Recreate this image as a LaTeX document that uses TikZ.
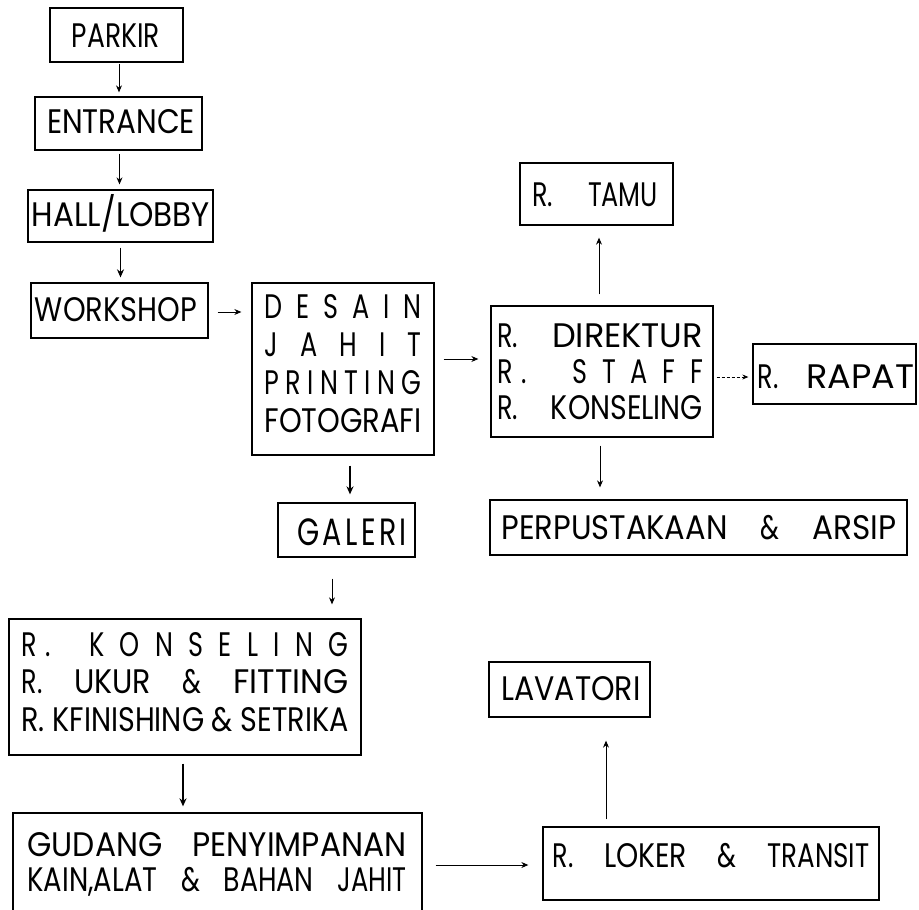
\documentclass[tikz,border=0pt]{standalone}
\usepackage{fontspec}
\setmainfont{Poppins}[FakeStretch=0.75]
\usepackage{graphicx}
\usetikzlibrary{arrows.meta,calc}
\newcommand{\fitw}[2]{\resizebox{#1}{\height}{#2}}
\begin{document}
\begin{tikzpicture}[x=1pt,y=-1pt,
  box/.style={draw, line width=1.3pt, rectangle, inner sep=0pt},
  txt/.style={inner sep=0pt, anchor=base, font=\fontsize{34}{40}\selectfont},
  bigtxt/.style={inner sep=0pt, anchor=base, font=\fontsize{38}{44}\selectfont},
  arr/.style={line width=1pt, -{Stealth[length=7pt,width=6pt]}},
  thickarr/.style={line width=1.8pt, -{Stealth[length=8pt,width=7pt]}},
  thinarr/.style={line width=0.8pt, densely dashed, -{Stealth[length=6pt,width=5pt]}}]
\useasboundingbox (0,0) rectangle (919,910);
% boxes
\node[box, minimum width=133pt, minimum height=54pt] (parkir) at (116.5,35) {};
\node[box, minimum width=167pt, minimum height=53pt] (entrance) at (118.5,123.5) {};
\node[box, minimum width=185pt, minimum height=52pt] (hall) at (120.5,216) {};
\node[box, minimum width=177pt, minimum height=55pt] (workshop) at (119.5,310.5) {};
\node[box, minimum width=182pt, minimum height=172pt] (desain) at (343,369) {};
\node[box, minimum width=222pt, minimum height=131pt] (direktur) at (602,371.5) {};
\node[box, minimum width=153pt, minimum height=62pt] (tamu) at (596.5,194) {};
\node[box, minimum width=163pt, minimum height=60pt] (rapat) at (834.5,374) {};
\node[box, minimum width=417pt, minimum height=55pt] (perpus) at (698.5,527.5) {};
\node[box, minimum width=137pt, minimum height=54pt] (galeri) at (346.5,530) {};
\node[box, minimum width=352pt, minimum height=136pt] (konsel) at (185,687) {};
\node[box, minimum width=409pt, minimum height=102pt] (gudang) at (217.5,864) {};
\node[box, minimum width=161pt, minimum height=55pt] (lavatori) at (569.5,689.5) {};
\node[box, minimum width=336pt, minimum height=73pt] (loker) at (711,863.5) {};
% texts
\node[txt] (tparkir) at (116,47) {\fitw{88pt}{PARKIR}};
\node[txt] (tentrance) at (121,133) {\fitw{148pt}{ENTRANCE}};
\node[txt] (thall) at (121,226) {\fitw{178pt}{HALL/LOBBY}};
\node[txt] (tworkshop) at (116,321) {\fitw{162pt}{WORKSHOP}};
\node[txt] (tdesain) at (343,318) {\makebox[157pt]{D\hfill E\hfill S\hfill A\hfill I\hfill N}};
\node[txt] (tjahit) at (343,356) {\makebox[157pt]{J\hfill A\hfill H\hfill I\hfill T}};
\node[txt] (tprinting) at (343,394) {\makebox[157pt]{P\hfill R\hfill I\hfill N\hfill T\hfill I\hfill N\hfill G}};
\node[txt] (tfoto) at (343,432) {\fitw{157pt}{FOTOGRAFI}};
\node[txt] (tdir1) at (600,347) {\makebox[206pt]{R.\hfill\fitw{151pt}{DIREKTUR}}};
\node[txt] (tdir2) at (600,383) {\makebox[206pt]{R\hspace{9pt}.\hspace{46pt}S\hfill T\hfill A\hfill F\hfill F}};
\node[txt] (tdir3) at (600,419) {\makebox[206pt]{R.\hfill\fitw{152pt}{KONSELING}}};
\node[txt] (ttamu) at (595,206) {\makebox[126pt]{R.\hfill\fitw{70pt}{TAMU}}};
\node[txt] (trapat) at (836,388) {\makebox[157pt]{R.\hfill\fitw{108pt}{RAPAT}}};
\node[txt] (tperpus) at (699,539) {\makebox[395pt]{\fitw{226pt}{PERPUSTAKAAN}\hfill\&\hfill\fitw{84pt}{ARSIP}}};
\node[bigtxt] (tgaleri) at (352,545) {\makebox[110pt]{G\hfill A\hfill L\hfill E\hfill R\hfill I}};
\node[txt] (tk1) at (185,656) {\makebox[327pt]{R\hspace{9pt}.\hspace{38pt}K\hfill O\hfill N\hfill S\hfill E\hfill L\hfill I\hfill N\hfill G}};
\node[txt] (tk2) at (185,693) {\makebox[327pt]{R.\hfill\fitw{77pt}{UKUR}\hfill\&\hfill\fitw{115pt}{FITTING}}};
\node[txt] (tk3) at (185,731) {\fitw{327pt}{R. KFINISHING \& SETRIKA}};
\node[txt] (tg1) at (217,856) {\makebox[379pt]{\fitw{135pt}{GUDANG}\hfill\fitw{214pt}{PENYIMPANAN}}};
\node[txt] (tg2) at (217,891) {\makebox[379pt]{\fitw{130pt}{KAIN,ALAT}\hfill\&\hfill\fitw{90pt}{BAHAN}\hfill\fitw{69pt}{JAHIT}}};
\node[txt] (tlava) at (571,700) {\fitw{139pt}{LAVATORI}};
\node[txt] (tloker) at (711,867) {\makebox[317pt]{R.\hfill\fitw{83pt}{LOKER}\hfill\&\hfill\fitw{102pt}{TRANSIT}}};
% arrows
\draw[arr, shorten <=1pt, shorten >=4pt] ([xshift=2.5pt]parkir.south) -- ([xshift=2.5pt]parkir.south |- entrance.north);
\draw[arr, shorten <=3pt, shorten >=5pt] ([xshift=1pt]entrance.south) -- ([xshift=1pt]entrance.south |- hall.north);
\draw[thickarr, shorten <=5pt, shorten >=5pt] (hall.south) -- (hall.south |- workshop.north);
\draw[arr, shorten <=9pt, shorten >=10pt] ([yshift=-1.5pt]workshop.east) -- ([yshift=-1.5pt]workshop.east -| desain.west);
\draw[arr, shorten <=9pt, shorten >=12pt] ([yshift=10pt]desain.east) -- ([yshift=10pt]desain.east -| direktur.west);
\draw[arr, shorten <=11pt, shorten >=12pt] ([xshift=-3pt]direktur.north) -- ([xshift=-3pt]direktur.north |- tamu.south);
\draw[thinarr, shorten <=3pt, shorten >=4pt] ([yshift=-5.5pt]direktur.east) -- ([yshift=-5.5pt]direktur.east -| rapat.west);
\draw[arr, shorten <=8pt, shorten >=12pt] ([xshift=-2pt]direktur.south) -- ([xshift=-2pt]direktur.south |- perpus.north);
\draw[thickarr, shorten <=10pt, shorten >=8pt] ([xshift=7pt]desain.south) -- ([xshift=7pt]desain.south |- galeri.north);
\draw[arr, shorten <=21pt, shorten >=14pt] ([xshift=-14.5pt]galeri.south) -- ([xshift=-14.5pt]galeri.south |- konsel.north);
\draw[thickarr, shorten <=8pt, shorten >=6pt] ([xshift=-2pt]konsel.south) -- ([xshift=-2pt]konsel.south |- gudang.north);
\draw[arr, shorten <=13pt, shorten >=14pt] ([yshift=-1pt]gudang.east) -- ([yshift=-1pt]gudang.east -| loker.west);
\draw[arr, shorten <=7pt, shorten >=23pt] ([xshift=-105pt]loker.north) -- ([xshift=-105pt]loker.north |- lavatori.south);
\end{tikzpicture}
\end{document}
